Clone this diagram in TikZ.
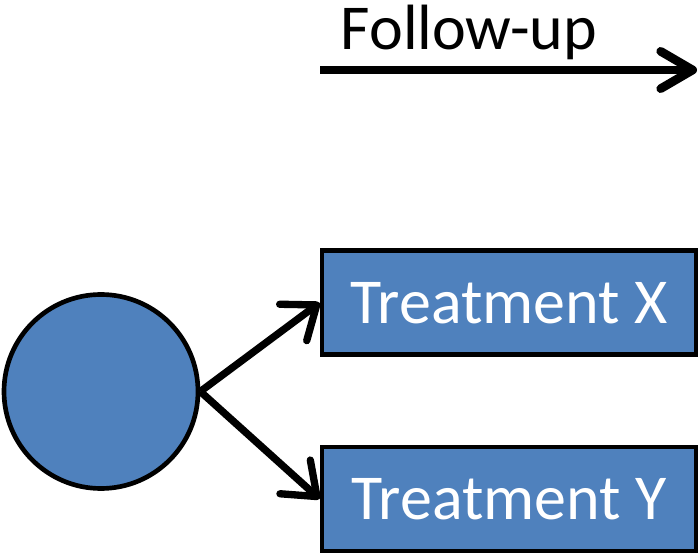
\documentclass[tikz,border=0pt]{standalone}
\usepackage{fontspec}
\setmainfont{Carlito}
\usepackage{xcolor}
\usetikzlibrary{arrows.meta}
\definecolor{armblue}{HTML}{4F81BD}

\tikzset{
  armbox/.style={draw=black, line width=3.5pt, fill=armblue, text=white,
    minimum width=374*0.75pt, minimum height=104*0.75pt, inner sep=0pt,
    font=\fontsize{48}{56}\selectfont},
  armlink/.style={line width=5.5pt, -{Straight Barb[length=22pt, width=34pt, round]}},
}

\begin{document}
\begin{tikzpicture}[x=0.75pt, y=0.75pt]
  \useasboundingbox (0,0) rectangle (699,553);
  \node (pool) [circle, draw=black, line width=3.5pt, fill=armblue,
    minimum size=194*0.75pt, inner sep=0pt] at (101,161.5) {};
  \node (trtx) [armbox] at (509,250.25) {Treatment X};
  \node (trty) [armbox] at (509,54) {Treatment Y};
  \coordinate (fupa) at (320,483);
  \coordinate (fupb) at (697,483);
  \node (fup) [anchor=base, font=\fontsize{48}{56}\selectfont] at (469,503) {Follow-up};
  \draw[line width=6.5pt, -{Straight Barb[length=24pt, width=28pt, round]}] (fupa) -- (fupb);
  \draw[armlink] (pool.east) -- (trtx.west);
  \draw[armlink] (pool.east) -- (trty.west);
\end{tikzpicture}
\end{document}
